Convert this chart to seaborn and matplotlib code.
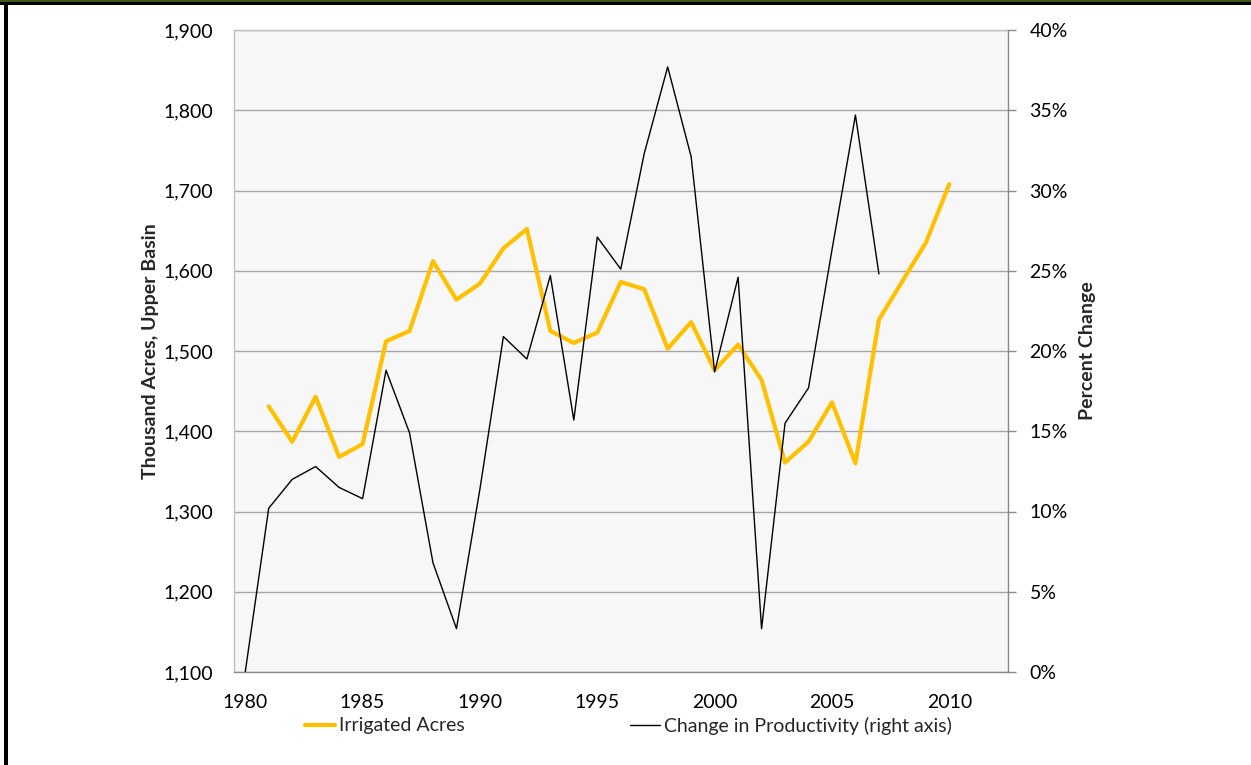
import numpy as np
import pandas as pd
import seaborn as sns
import matplotlib
matplotlib.use("Agg")
import matplotlib.pyplot as plt
from matplotlib.ticker import FuncFormatter, MultipleLocator, FixedLocator
from matplotlib.lines import Line2D
from matplotlib.patches import Rectangle

# Irrigated acreage, Upper Basin (thousand acres)
acre_years = list(range(1981, 2011))
irrigated_acres = [1431, 1387, 1443, 1368, 1384, 1512, 1525, 1612, 1564, 1584,
                   1628, 1652, 1525, 1510, 1523, 1586, 1577, 1503, 1536, 1476,
                   1508, 1464, 1361, 1387, 1436, 1360, 1539, 1587, 1635, 1708]

# Change in productivity (percent)
prod_years = list(range(1980, 2008))
productivity_change = [0.0, 10.2, 12.0, 12.8, 11.5, 10.8, 18.8, 14.9, 6.8, 2.7,
                       11.4, 20.9, 19.5, 24.7, 15.7, 27.1, 25.1, 32.3, 37.7, 32.1,
                       18.7, 24.6, 2.7, 15.5, 17.7, 26.3, 34.7, 24.8]

label_acres = "Irrigated Acres"
label_prod = "Change in Productivity (right axis)"
left_title = "Thousand Acres, Upper Basin"
right_title = "Percent Change"
year_labels = [1980, 1985, 1990, 1995, 2000, 2005, 2010]

sns.set_theme(style="white")
plt.rcParams["font.family"] = ["Lato", "DejaVu Sans"]

FS = 14
GOLD = "#FFC000"
GRID = "#A6A6A6"
DARK_SPINE = "#898989"
LIGHT_SPINE = "#C0C0C0"

df_acres = pd.DataFrame({"year": acre_years, "acres": irrigated_acres})
df_prod = pd.DataFrame({"year": prod_years, "pct": productivity_change})

fig = plt.figure(figsize=(12.51, 7.65), dpi=100)
ax = fig.add_axes([233.5 / 1251, 1 - 672 / 765, (1008 - 233.5) / 1251, (672 - 30) / 765])
ax.set_facecolor("#F7F7F7")

sns.lineplot(data=df_acres, x="year", y="acres", ax=ax, color=GOLD, linewidth=3.0,
             legend=False, zorder=3)
ax.set_xlim(1979.5, 2012.5)
ax.set_ylim(1100, 1900)
ax.yaxis.set_major_locator(MultipleLocator(100))
ax.yaxis.set_major_formatter(FuncFormatter(lambda v, p: f"{int(round(v)):,}"))
ax.grid(axis="y", color=GRID, linewidth=1.0)
ax.grid(axis="x", visible=False)
ax.set_axisbelow(True)

ax.xaxis.set_major_locator(FixedLocator(year_labels))
ax.xaxis.set_minor_locator(FixedLocator(np.arange(1979.5, 2013.0, 1.0)))
ax.tick_params(axis="x", which="major", length=0, pad=15.5, labelsize=FS, colors="black")
ax.tick_params(axis="x", which="minor", length=5, width=1, color=DARK_SPINE, direction="out")
ax.tick_params(axis="y", which="major", length=0, pad=14.5, labelsize=FS, colors="black")
ax.set_xlabel("")
ax.set_ylabel(left_title, fontsize=FS, fontweight="bold", labelpad=3)

ax.spines["left"].set_color(LIGHT_SPINE)
ax.spines["top"].set_color(LIGHT_SPINE)
ax.spines["bottom"].set_color(DARK_SPINE)
ax.spines["right"].set_visible(False)
for s in ax.spines.values():
    s.set_linewidth(1.0)

ax2 = ax.twinx()
sns.lineplot(data=df_prod, x="year", y="pct", ax=ax2, color="black", linewidth=1.0,
             legend=False, zorder=4)
ax2.set_xlim(1979.5, 2012.5)
ax2.set_ylim(0, 40)
ax2.yaxis.set_major_locator(MultipleLocator(5))
ax2.yaxis.set_major_formatter(FuncFormatter(lambda v, p: f"{int(round(v))}%"))
ax2.tick_params(axis="y", which="major", length=6, width=1, color=DARK_SPINE,
                direction="out", pad=9.5, labelsize=FS, labelcolor="black")
ax2.set_ylabel(right_title, fontsize=FS, fontweight="bold", labelpad=8)
ax2.grid(False)
for name, s in ax2.spines.items():
    s.set_visible(name == "right")
ax2.spines["right"].set_color(DARK_SPINE)
ax2.spines["right"].set_linewidth(1.0)

# Legend entries below the plot
h1 = [Line2D([], [], color=GOLD, linewidth=3.0)]
h2 = [Line2D([], [], color="black", linewidth=1.0)]
for handles, lab, xpos in [(h1, label_acres, 305), (h2, label_prod, 630)]:
    fig.legend(handles, [lab], loc="center left", bbox_to_anchor=(xpos / 1251, 1 - 726 / 765),
               frameon=False, handlelength=1.55, handletextpad=0.2, borderpad=0,
               borderaxespad=0, fontsize=FS)

# Frame strokes along the top and left edges
fig.patches.append(Rectangle((0, 1 - 2 / 765), 1, 2 / 765, transform=fig.transFigure,
                             facecolor="#3A5A1A", edgecolor="none", zorder=10))
fig.patches.append(Rectangle((0, 1 - 5 / 765), 1, 3 / 765, transform=fig.transFigure,
                             facecolor="black", edgecolor="none", zorder=10))
fig.patches.append(Rectangle((4 / 1251, 0), 4 / 1251, 1 - 2 / 765, transform=fig.transFigure,
                             facecolor="black", edgecolor="none", zorder=10))

fig.savefig("out.png", dpi=100, facecolor="white")
